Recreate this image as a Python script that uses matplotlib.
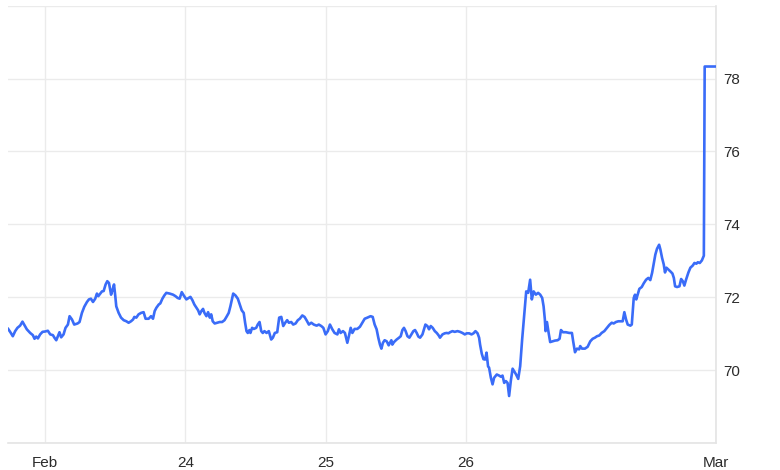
import matplotlib.pyplot as plt

plt.rcParams['font.family'] = ['Liberation Sans', 'DejaVu Sans']

# time in days since the "Feb" tick, and price
t = [-0.264, -0.245, -0.231, -0.214, -0.198, -0.179, -0.162, -0.150, -0.131, -0.107,
     -0.088, -0.076, -0.064, -0.052, -0.036, -0.019, 0.000, 0.019, 0.036, 0.055,
     0.066, 0.079, 0.093, 0.102, 0.114, 0.131, 0.145, 0.162, 0.174, 0.191,
     0.207, 0.231, 0.245, 0.262, 0.279, 0.298, 0.312, 0.326, 0.341, 0.357,
     0.369, 0.379, 0.393, 0.405, 0.417, 0.431, 0.443, 0.455, 0.470, 0.481,
     0.491, 0.500, 0.507, 0.524, 0.541, 0.560, 0.579, 0.595, 0.612, 0.627,
     0.636, 0.650, 0.666, 0.684, 0.702, 0.716, 0.738, 0.755, 0.769, 0.781,
     0.793, 0.810, 0.821, 0.836, 0.850, 0.864, 0.888, 0.912, 0.929, 0.945,
     0.959, 0.974, 0.988, 1.007, 1.024, 1.036, 1.050, 1.064, 1.079, 1.091,
     1.102, 1.114, 1.126, 1.136, 1.150, 1.162, 1.174, 1.184, 1.195, 1.209,
     1.226, 1.245, 1.262, 1.279, 1.293, 1.309, 1.321, 1.334, 1.341, 1.357,
     1.374, 1.388, 1.402, 1.416, 1.426, 1.436, 1.445, 1.457, 1.464, 1.476,
     1.488, 1.505, 1.516, 1.529, 1.541, 1.552, 1.564, 1.579, 1.595, 1.612,
     1.624, 1.638, 1.655, 1.669, 1.684, 1.698, 1.712, 1.726, 1.738, 1.755,
     1.769, 1.786, 1.802, 1.816, 1.834, 1.850, 1.864, 1.881, 1.898, 1.916,
     1.936, 1.952, 1.969, 1.984, 2.000, 2.016, 2.031, 2.048, 2.064, 2.084,
     2.095, 2.107, 2.124, 2.138, 2.155, 2.166, 2.179, 2.191, 2.207, 2.226,
     2.245, 2.262, 2.279, 2.298, 2.321, 2.336, 2.350, 2.364, 2.376, 2.388,
     2.398, 2.409, 2.421, 2.436, 2.450, 2.459, 2.469, 2.476, 2.488, 2.507,
     2.524, 2.536, 2.548, 2.559, 2.571, 2.584, 2.598, 2.612, 2.626, 2.638,
     2.650, 2.662, 2.674, 2.691, 2.702, 2.712, 2.726, 2.738, 2.750, 2.764,
     2.779, 2.793, 2.807, 2.816, 2.834, 2.850, 2.864, 2.876, 2.888, 2.905,
     2.921, 2.941, 2.959, 2.976, 2.993, 3.007, 3.024, 3.041, 3.055, 3.069,
     3.084, 3.095, 3.102, 3.114, 3.126, 3.138, 3.148, 3.159, 3.166, 3.179,
     3.191, 3.202, 3.221, 3.238, 3.250, 3.262, 3.274, 3.286, 3.298, 3.309,
     3.321, 3.334, 3.345, 3.359, 3.374, 3.388, 3.402, 3.416, 3.431, 3.445,
     3.459, 3.471, 3.484, 3.500, 3.516, 3.531, 3.545, 3.555, 3.564, 3.569,
     3.579, 3.591, 3.602, 3.619, 3.636, 3.655, 3.669, 3.679, 3.693, 3.714,
     3.738, 3.757, 3.766, 3.779, 3.793, 3.809, 3.816, 3.829, 3.850, 3.869,
     3.888, 3.905, 3.921, 3.936, 3.952, 3.969, 3.988, 4.007, 4.024, 4.041,
     4.055, 4.071, 4.088, 4.107, 4.119, 4.131, 4.143, 4.155, 4.174, 4.184,
     4.198, 4.207, 4.216, 4.226, 4.238, 4.255, 4.269, 4.286, 4.302, 4.316,
     4.329, 4.341, 4.352, 4.364, 4.379, 4.388, 4.400, 4.412, 4.421, 4.431,
     4.445, 4.459, 4.474, 4.484, 4.493, 4.507, 4.524, 4.536, 4.548, 4.559,
     4.571, 4.588, 4.602, 4.619, 4.631, 4.645, 4.655, 4.669, 4.684, 4.698,
     4.704, 4.780]

price = [71.13, 71.02, 70.93, 71.07, 71.16, 71.22, 71.33, 71.25, 71.12, 71.02,
         70.96, 70.86, 70.92, 70.87, 70.98, 71.05, 71.06, 71.08, 70.98, 70.96,
         70.89, 70.82, 70.95, 71.04, 70.90, 70.98, 71.16, 71.25, 71.48, 71.39,
         71.25, 71.28, 71.32, 71.57, 71.74, 71.87, 71.94, 71.96, 71.87, 71.96,
         72.10, 72.03, 72.10, 72.16, 72.17, 72.35, 72.44, 72.39, 72.07, 72.21,
         72.35, 72.03, 71.75, 71.57, 71.44, 71.37, 71.34, 71.30, 71.34, 71.39,
         71.46, 71.44, 71.53, 71.57, 71.59, 71.41, 71.41, 71.48, 71.41, 71.62,
         71.71, 71.80, 71.83, 71.96, 72.05, 72.12, 72.10, 72.07, 72.03, 71.98,
         71.96, 72.14, 72.05, 71.94, 71.98, 72.01, 71.92, 71.80, 71.71, 71.64,
         71.53, 71.62, 71.68, 71.57, 71.48, 71.59, 71.44, 71.53, 71.34, 71.28,
         71.30, 71.32, 71.32, 71.37, 71.46, 71.57, 71.75, 71.98, 72.10, 72.05,
         71.96, 71.80, 71.64, 71.57, 71.30, 71.07, 71.02, 71.10, 71.02, 71.16,
         71.13, 71.16, 71.25, 71.32, 71.07, 71.02, 71.07, 71.02, 71.07, 70.84,
         70.89, 71.02, 71.04, 71.44, 71.46, 71.21, 71.30, 71.37, 71.30, 71.32,
         71.25, 71.28, 71.37, 71.41, 71.50, 71.46, 71.37, 71.25, 71.30, 71.25,
         71.22, 71.25, 71.21, 71.16, 70.98, 71.07, 71.25, 71.12, 71.02, 70.98,
         71.12, 71.02, 71.07, 71.02, 70.75, 70.93, 71.16, 71.02, 71.13, 71.13,
         71.19, 71.30, 71.41, 71.44, 71.48, 71.46, 71.25, 71.12, 70.89, 70.70,
         70.59, 70.75, 70.82, 70.79, 70.68, 70.75, 70.82, 70.70, 70.77, 70.84,
         70.89, 70.93, 71.10, 71.16, 71.07, 70.93, 70.89, 70.98, 71.07, 71.10,
         71.02, 70.92, 70.89, 70.98, 71.12, 71.25, 71.21, 71.12, 71.21, 71.16,
         71.07, 71.02, 70.95, 70.89, 70.98, 71.01, 71.02, 71.01, 71.04, 71.07,
         71.05, 71.07, 71.05, 71.02, 70.98, 71.01, 71.01, 70.98, 71.01, 71.07,
         71.01, 70.89, 70.70, 70.45, 70.30, 70.29, 70.48, 70.10, 70.07, 69.79,
         69.61, 69.79, 69.88, 69.85, 69.82, 69.85, 69.65, 69.70, 69.65, 69.29,
         69.70, 70.04, 69.97, 69.88, 69.76, 70.11, 70.84, 71.48, 72.16, 72.12,
         72.48, 71.94, 72.16, 72.07, 72.12, 72.07, 71.98, 71.75, 71.39, 71.07,
         71.32, 71.02, 70.77, 70.79, 70.81, 70.82, 70.86, 71.10, 71.04, 71.04,
         71.02, 71.02, 70.79, 70.49, 70.59, 70.57, 70.66, 70.59, 70.59, 70.64,
         70.79, 70.86, 70.89, 70.93, 70.95, 71.02, 71.07, 71.16, 71.24, 71.30,
         71.28, 71.32, 71.34, 71.34, 71.34, 71.59, 71.39, 71.25, 71.22, 71.25,
         71.98, 72.07, 71.94, 72.07, 72.23, 72.28, 72.38, 72.48, 72.53, 72.47,
         72.67, 72.94, 73.17, 73.33, 73.44, 73.31, 73.08, 72.90, 72.68, 72.81,
         72.76, 72.71, 72.65, 72.53, 72.30, 72.28, 72.30, 72.50, 72.44, 72.32,
         72.48, 72.68, 72.81, 72.87, 72.94, 72.92, 72.96, 72.94, 73.01, 73.14,
         78.33, 78.33]

x_ticks = [0, 1, 2, 3, 4.785]
x_labels = ['Feb', '24', '25', '26', 'Mar']
y_ticks = [68, 70, 72, 74, 76, 78, 80]
y_labels = ['', '70', '72', '74', '76', '78', '']

fig = plt.figure(figsize=(7.8, 4.7), dpi=100)
ax = fig.add_axes([0.0103, 0.0574, 0.9077, 0.9306])

ax.plot(t, price, color='#3a6cf8', lw=1.9, solid_joinstyle='round', zorder=3)

ax.set_xlim(-0.265, 4.785)
ax.set_ylim(68, 80)

ax.set_xticks(x_ticks)
ax.set_xticklabels(x_labels)
ax.set_yticks(y_ticks)
ax.set_yticklabels(y_labels)
ax.yaxis.tick_right()
ax.tick_params(axis='both', length=0, labelsize=11, colors='#2b2b2b')
ax.tick_params(axis='x', pad=9)
ax.tick_params(axis='y', pad=5)

ax.grid(True, color='#ebebeb', lw=1)
ax.set_axisbelow(True)
for s in ['left', 'top']:
    ax.spines[s].set_visible(False)
for s in ['right', 'bottom']:
    ax.spines[s].set_color('#e4e4e4')
    ax.spines[s].set_linewidth(1.2)

fig.savefig('out.png', dpi=100)
